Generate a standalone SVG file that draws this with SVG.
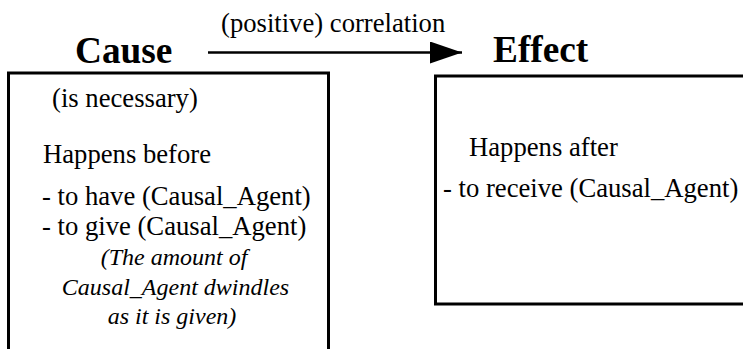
<svg xmlns="http://www.w3.org/2000/svg" width="743" height="349" viewBox="0 0 743 349">
<style>
  text { font-family: "Liberation Serif", "DejaVu Serif", serif; fill: #000; }
  .t { font-size: 26.67px; }
  .it { font-size: 24px; font-style: italic; }
  .h { font-size: 37.3px; font-weight: bold; }
  .box { fill: #fff; stroke: #000; stroke-width: 3; }
  .conn { stroke: #000; stroke-width: 2.5; fill: none; }
</style>
<defs>
  <marker id="arrow" markerUnits="userSpaceOnUse" markerWidth="34" markerHeight="24" refX="32" refY="11" orient="auto">
    <path d="M0,0 L32,11 L0,22 Z" fill="#000"/>
  </marker>
</defs>
<rect width="743" height="349" fill="#fff"/>
<g id="cause">
  <rect class="box" x="8.5" y="73" width="320" height="300"/>
  <text class="h" x="75" y="63">Cause</text>
  <text class="t" x="52" y="107">(is necessary)</text>
  <text class="t" x="43" y="163">Happens before</text>
  <text class="t" x="42" y="205">- to have (Causal_Agent)</text>
  <text class="t" x="42" y="235">- to give (Causal_Agent)</text>
  <text class="it" x="174" y="265" text-anchor="middle">(The amount of</text>
  <text class="it" x="175.5" y="295" text-anchor="middle">Causal_Agent dwindles</text>
  <text class="it" x="172" y="324" text-anchor="middle">as it is given)</text>
</g>
<g id="effect">
  <rect class="box" x="435.5" y="76" width="330" height="228"/>
  <text class="h" x="493" y="62">Effect</text>
  <text class="t" x="469" y="156">Happens after</text>
  <text class="t" x="443" y="197">- to receive (Causal_Agent)</text>
</g>
<g id="connectors">
  <line class="conn" x1="208" y1="52.5" x2="462" y2="52.5" marker-end="url(#arrow)"/>
  <text class="t" x="221" y="32">(positive) correlation</text>
</g>
</svg>
